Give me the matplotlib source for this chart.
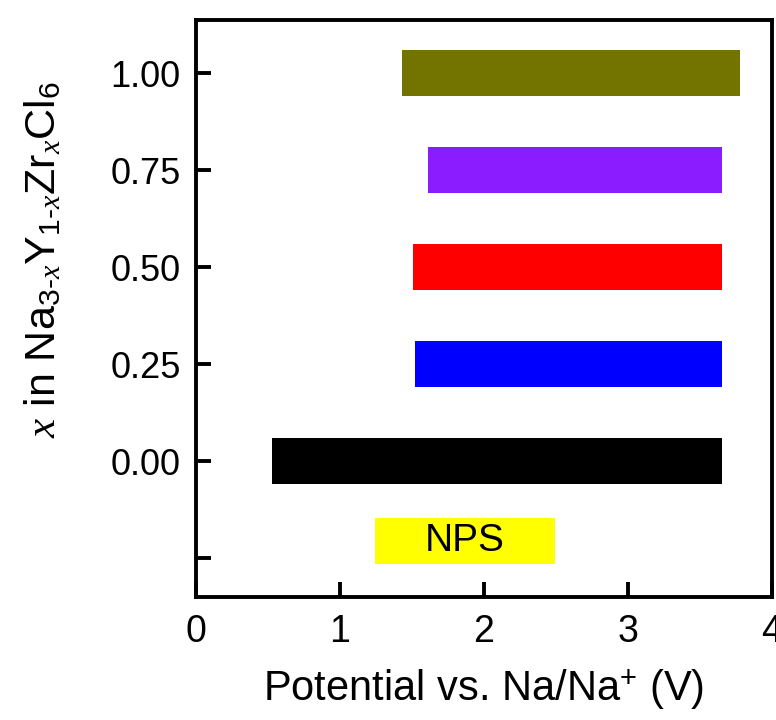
import matplotlib.pyplot as plt

plt.rcParams['font.family'] = ['Liberation Sans', 'DejaVu Sans']
plt.rcParams['mathtext.fontset'] = 'custom'
plt.rcParams['mathtext.rm'] = 'Liberation Sans'
plt.rcParams['mathtext.it'] = 'Liberation Serif:italic'

# x in Na3-xY1-xZrxCl6, stability window (V vs Na/Na+)
samples = [0.00, 0.25, 0.50, 0.75, 1.00]
v_low = [0.53, 1.52, 1.51, 1.61, 1.43]
v_high = [3.65, 3.65, 3.65, 3.65, 3.78]
colors = ['#000000', '#0000ff', '#ff0000', '#8a1cff', '#737300']

# reference electrolyte
nps_label = 'NPS'
nps_y = -0.205
nps_low = 1.24
nps_high = 2.49

yticks = [0.00, 0.25, 0.50, 0.75, 1.00]
ytick_labels = ['0.00', '0.25', '0.50', '0.75', '1.00']
xticks = [0, 1, 2, 3, 4]

fig = plt.figure(figsize=(7.76, 7.2), dpi=100)
ax = fig.add_axes([0.2526, 0.1708, 0.7422, 0.8014])

bar_h = 0.118
widths = [h - l for l, h in zip(v_low, v_high)]
ax.barh(samples, widths, left=v_low, height=bar_h, color=colors)
ax.barh([nps_y], [nps_high - nps_low], left=[nps_low], height=bar_h, color='#ffff00')
ax.text((nps_low + nps_high) / 2, nps_y, nps_label, ha='center', va='center', fontsize=28)

ax.set_xlim(0, 4)
ax.set_ylim(-0.35, 1.137)
ax.set_xticks(xticks)
ax.set_yticks(yticks + [-0.25])
ax.set_yticklabels(ytick_labels + [''])

ax.tick_params(direction='in', length=11, width=2.8, labelsize=26)
ax.tick_params(axis='x', pad=12, labelsize=27)
ax.tick_params(axis='y', pad=11)
for s in ax.spines.values():
    s.set_linewidth(2.8)

ax.set_xlabel('Potential vs. Na/Na$^{+}$ (V)', fontsize=30, labelpad=13)
ax.set_ylabel(r'$x$ in Na$_{3\text{-}x}$Y$_{1\text{-}x}$Zr$_{x}$Cl$_{6}$', fontsize=31)
ax.yaxis.set_label_coords(-0.228, 0.585)

plt.savefig('out.png', dpi=100)
